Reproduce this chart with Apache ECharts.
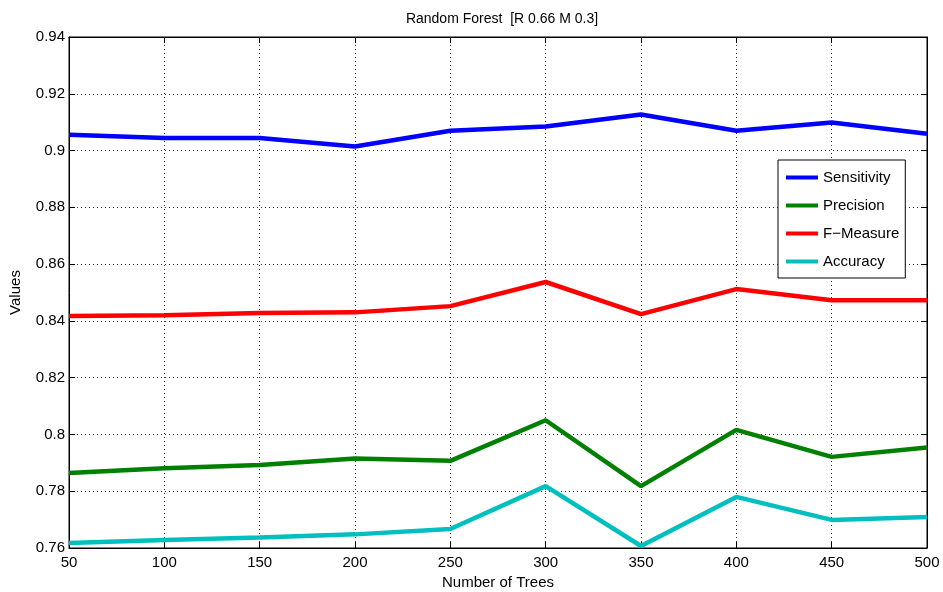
<!DOCTYPE html>
<html>
<head>
<meta charset="utf-8">
<script src="https://cdn.jsdelivr.net/npm/echarts@6/dist/echarts.min.js"></script>
<style>
  html, body { margin: 0; padding: 0; background: #fff; }
  #main { width: 943px; height: 592px; }
</style>
</head>
<body>
<div id="main"></div>
<script>
var trees = [50, 100, 150, 200, 250, 300, 350, 400, 450, 500];
var sensitivity = [0.9056, 0.9044, 0.9044, 0.9014, 0.9070, 0.9085, 0.9127, 0.9070, 0.9099, 0.9059];
var precision = [0.7864, 0.7881, 0.7892, 0.7915, 0.7907, 0.8050, 0.7818, 0.8016, 0.7921, 0.7954];
var fMeasure = [0.8417, 0.8420, 0.8428, 0.8430, 0.8452, 0.8537, 0.8424, 0.8512, 0.8473, 0.8473];
var accuracy = [0.7618, 0.7628, 0.7637, 0.7648, 0.7667, 0.7818, 0.7607, 0.7780, 0.7699, 0.7709];

var seriesNames = ['Sensitivity', 'Precision', 'F\u2212Measure', 'Accuracy'];
var seriesColors = ['#0000ff', '#008000', '#ff0000', '#00bfbf'];
var seriesData = [sensitivity, precision, fMeasure, accuracy];

function pairs(values) {
    return trees.map(function (t, i) { return [t, values[i]]; });
}

var font = 'Liberation Sans, Arial, sans-serif';
var myChart = echarts.init(document.getElementById('main'));

var gridLine = { show: true, lineStyle: { color: '#333', type: [1, 3], width: 1 } };
var tickIn = { show: true, inside: true, length: 6, lineStyle: { color: '#000' } };

var option = {
    animation: false,
    textStyle: { fontFamily: font },
    title: {
        text: 'Random Forest  [R 0.66 M 0.3]',
        left: 497, top: 7, textAlign: 'center',
        textStyle: { fontSize: 14, fontWeight: 'normal', color: '#000', fontFamily: font }
    },
    grid: {
        left: 69, right: 16, top: 37, bottom: 44,
        outerBoundsMode: 'none', containLabel: false,
        show: true, borderColor: '#000', borderWidth: 1
    },
    legend: {
        orient: 'vertical',
        left: 778, top: 160,
        data: seriesNames,
        icon: 'rect',
        itemWidth: 32, itemHeight: 4,
        itemGap: 13,
        padding: [10, 6, 9, 8],
        backgroundColor: '#fff',
        borderColor: '#000', borderWidth: 1,
        textStyle: { fontSize: 15, color: '#000', fontFamily: font, lineHeight: 15 }
    },
    xAxis: [{
        type: 'value', min: 50, max: 500, interval: 50,
        name: 'Number of Trees', nameLocation: 'middle', nameGap: 24,
        nameTextStyle: { fontSize: 15, color: '#000', fontFamily: font },
        axisLine: { show: true, lineStyle: { color: '#000' } },
        axisTick: tickIn,
        axisLabel: { fontSize: 15, color: '#000', margin: 7 },
        splitLine: gridLine
    }, {
        type: 'value', min: 50, max: 500, interval: 50, position: 'top',
        axisLine: { show: true, lineStyle: { color: '#000' } },
        axisTick: tickIn, axisLabel: { show: false }, splitLine: { show: false }
    }],
    yAxis: [{
        type: 'value', min: 0.76, max: 0.94, interval: 0.02,
        name: 'Values', nameLocation: 'middle', nameGap: 46,
        nameTextStyle: { fontSize: 15, color: '#000', fontFamily: font },
        axisLine: { show: true, lineStyle: { color: '#000' } },
        axisTick: tickIn,
        axisLabel: {
            fontSize: 15, color: '#000', margin: 4,
            formatter: function (v) { return String(parseFloat(v.toFixed(2))); }
        },
        splitLine: gridLine
    }, {
        type: 'value', min: 0.76, max: 0.94, interval: 0.02, position: 'right',
        axisLine: { show: true, lineStyle: { color: '#000' } },
        axisTick: tickIn, axisLabel: { show: false }, splitLine: { show: false }
    }],
    series: seriesNames.map(function (name, i) {
        return {
            name: name,
            type: 'line',
            data: pairs(seriesData[i]),
            showSymbol: false,
            symbol: 'none',
            color: seriesColors[i],
            lineStyle: { width: 4.5, color: seriesColors[i] }
        };
    })
};
myChart.setOption(option);
</script>
</body>
</html>
